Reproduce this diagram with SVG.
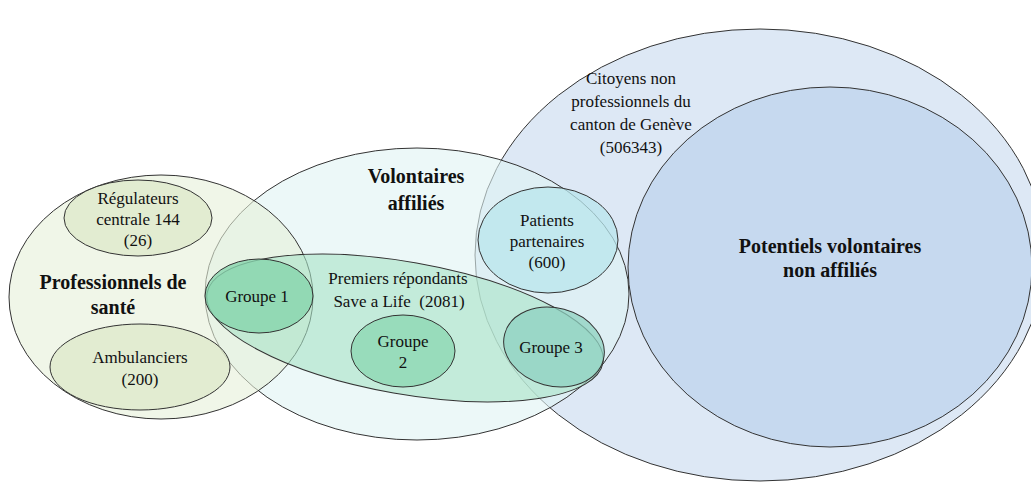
<svg xmlns="http://www.w3.org/2000/svg" width="1031" height="482" viewBox="0 0 1031 482">
<style>
.o{stroke:#333;stroke-width:1}
text{font-family:'Liberation Serif','Times New Roman',serif;font-size:17px;fill:#111;text-anchor:middle}
.b{font-weight:bold;font-size:20px}
</style>
<rect width="1031" height="482" fill="#fff"/>
<g id="citoyens">
<ellipse class="o" cx="760" cy="255" rx="285" ry="226" fill="#dde8f5"/>
</g>
<g id="potentiels">
<ellipse class="o" cx="830" cy="267" rx="202" ry="180" fill="#c6d9ef"/>
</g>
<g id="volontaires">
<ellipse class="o" cx="417" cy="294" rx="212" ry="146" fill="#dff3f3" fill-opacity="0.6"/>
</g>
<g id="professionnels">
<ellipse class="o" cx="161" cy="297" rx="152" ry="122" fill="#e6f0d8" fill-opacity="0.6"/>
</g>
<g id="regulateurs">
<ellipse class="o" cx="138" cy="218" rx="74" ry="38" fill="#dce8c8" fill-opacity="0.7"/>
</g>
<g id="ambulanciers">
<ellipse class="o" cx="140" cy="367" rx="90" ry="43" fill="#dce8c8" fill-opacity="0.7"/>
</g>
<g id="patients">
<ellipse class="o" cx="548" cy="240" rx="70" ry="53" fill="#b8e6ec" fill-opacity="0.75"/>
</g>
<g id="premiers">
<ellipse class="o" cx="405" cy="328" rx="201" ry="66" transform="rotate(10 405 328)" fill="#a8e2c6" fill-opacity="0.6"/>
</g>
<g id="groupe1">
<ellipse class="o" cx="259" cy="296" rx="54" ry="37" fill="#86d4ac" fill-opacity="0.8"/>
</g>
<g id="groupe2">
<ellipse class="o" cx="403" cy="351" rx="52" ry="36" fill="#8dd8b3" fill-opacity="0.8"/>
</g>
<g id="groupe3">
<ellipse class="o" cx="554" cy="347" rx="51" ry="39" transform="rotate(15 554 347)" fill="#8ed2c0" fill-opacity="0.75"/>
</g>
<g id="connectors"></g>
<g id="labels">
<text x="631" y="84">Citoyens non</text>
<text x="631" y="107">professionnels du</text>
<text x="631" y="130">canton de Genève</text>
<text x="631" y="153">(506343)</text>
<text class="b" x="830" y="253">Potentiels  volontaires</text>
<text class="b" x="830" y="277">non  affiliés</text>
<text class="b" x="416" y="183">Volontaires</text>
<text class="b" x="416" y="210">affiliés</text>
<text class="b" x="113" y="289">Professionnels  de</text>
<text class="b" x="113" y="314">santé</text>
<text x="138" y="204">Régulateurs</text>
<text x="138" y="225">centrale  144</text>
<text x="138" y="246">(26)</text>
<text x="140" y="363">Ambulanciers</text>
<text x="140" y="385">(200)</text>
<text x="257" y="302">Groupe 1</text>
<text x="398" y="284">Premiers  répondants</text>
<text x="399" y="307" xml:space="preserve">Save a Life  (2081)</text>
<text x="403" y="347">Groupe</text>
<text x="403" y="368">2</text>
<text x="551" y="353">Groupe 3</text>
<text x="547" y="226">Patients</text>
<text x="547" y="247">partenaires</text>
<text x="547" y="268">(600)</text>
</g>
</svg>
